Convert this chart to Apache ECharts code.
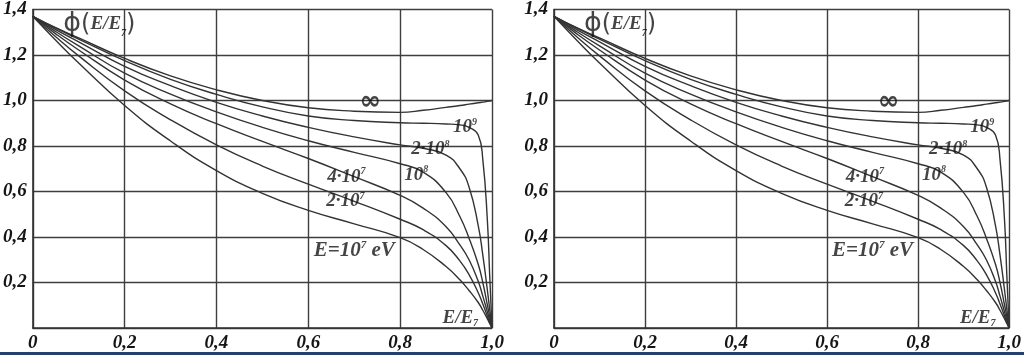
<!DOCTYPE html>
<html>
<head>
<meta charset="utf-8">
<script src="https://cdn.jsdelivr.net/npm/echarts@6/dist/echarts.min.js"></script>
<style>
html,body{margin:0;padding:0;background:#fff;}
#chart{width:1024px;height:355px;}
</style>
</head>
<body>
<div id="chart"></div>
<script>
// x = E/E7 (fraction), shared by all curves
var xs = [0, 0.05, 0.1, 0.2, 0.3, 0.4, 0.5, 0.6, 0.7, 0.8, 0.85, 0.9, 0.93, 0.95, 0.97, 0.98, 0.99, 0.995, 1.0];
// phi(E/E7) for each primary energy
var e1e7 = [1.37, 1.265, 1.165, 0.978, 0.822, 0.692, 0.592, 0.517, 0.458, 0.397, 0.345, 0.27, 0.212, 0.165, 0.112, 0.078, 0.04, 0.02, 0];
var e2e7 = [1.37, 1.28, 1.196, 1.042, 0.915, 0.805, 0.712, 0.632, 0.557, 0.478, 0.432, 0.362, 0.295, 0.235, 0.155, 0.105, 0.052, 0.026, 0];
var e4e7 = [1.37, 1.293, 1.222, 1.09, 0.985, 0.898, 0.82, 0.745, 0.665, 0.583, 0.527, 0.445, 0.365, 0.30, 0.205, 0.14, 0.07, 0.035, 0];
var e1e8 = [1.37, 1.303, 1.24, 1.12, 1.028, 0.95, 0.882, 0.823, 0.772, 0.722, 0.685, 0.595, 0.49, 0.395, 0.28, 0.20, 0.10, 0.05, 0];
var e2e8 = [1.37, 1.312, 1.258, 1.15, 1.065, 0.992, 0.932, 0.882, 0.84, 0.805, 0.79, 0.76, 0.70, 0.62, 0.45, 0.32, 0.165, 0.082, 0];
var e1e9 = [1.37, 1.318, 1.27, 1.175, 1.093, 1.027, 0.972, 0.932, 0.912, 0.902, 0.90, 0.897, 0.893, 0.882, 0.848, 0.74, 0.47, 0.23, 0];
var eInf = [1.37, 1.32, 1.275, 1.185, 1.108, 1.047, 1.0, 0.968, 0.953, 0.948, 0.957, 0.97, 0.978, 0.984, 0.99, 0.993, 0.996, 0.998, 1.0];
var curves = [e1e7, e2e7, e4e7, e1e8, e2e8, e1e9, eInf];

// axis ticks
var xTicks = [0, 0.2, 0.4, 0.6, 0.8, 1.0];
var yTicks = [0.2, 0.4, 0.6, 0.8, 1.0, 1.2, 1.4];

// annotations: [x, y, rich text]
var notes = [
  [0.145, 1.335, '{phi|ϕ}{par|(}{it|E/E}{sub|7}{par|)}'],
  [0.735, 0.991, '{inf|∞}'],
  [0.941, 0.883, '{it|10}{sup|9}'],
  [0.866, 0.787, '{it|2·10}{sup|8}'],
  [0.835, 0.674, '{it|10}{sup|8}'],
  [0.683, 0.665, '{it|4·10}{sup|7}'],
  [0.681, 0.557, '{it|2·10}{sup|7}'],
  [0.70, 0.339, '{big|E=10}{bsup|7}{big| eV}'],
  [0.931, 0.043, '{it|E/E}{sub|7}']
];

var serif = '"Liberation Serif", "DejaVu Serif", serif';
var ink = '#151515';
var rich = {
  it: {fontFamily: serif, fontStyle: 'italic', fontWeight: 'bold', fontSize: 19, color: ink, lineHeight: 20},
  sup: {fontFamily: serif, fontStyle: 'italic', fontWeight: 'bold', fontSize: 10, color: ink, verticalAlign: 'top', lineHeight: 20},
  sub: {fontFamily: serif, fontStyle: 'italic', fontWeight: 'bold', fontSize: 10, color: ink, verticalAlign: 'bottom', lineHeight: 20},
  big: {fontFamily: serif, fontStyle: 'italic', fontWeight: 'bold', fontSize: 21, color: ink, lineHeight: 22},
  bsup: {fontFamily: serif, fontStyle: 'italic', fontWeight: 'bold', fontSize: 11, color: ink, verticalAlign: 'top', lineHeight: 22},
  phi: {fontFamily: '"DejaVu Sans", sans-serif', fontSize: 27, color: ink, lineHeight: 28},
  par: {fontFamily: '"DejaVu Sans", sans-serif', fontSize: 24, color: ink, lineHeight: 28},
  inf: {fontFamily: '"DejaVu Sans", sans-serif', fontWeight: 'bold', fontSize: 26, color: ink, lineHeight: 22}
};

function fmt(v) { return v.toFixed(1).replace('.', ','); }

var grids = [
  {left: 31, right: 532, top: 6, bottom: 27},
  {left: 554, right: 8, top: 6, bottom: 27}
];

var gridLine = {show: true, lineStyle: {color: '#3e3e3e', width: 1.4}};
var labelFont = {fontFamily: serif, fontStyle: 'italic', fontWeight: 'bold', fontSize: 19, color: ink};

var xAxes = [], yAxes = [], series = [];
grids.forEach(function (g, gi) {
  xAxes.push({
    type: 'value', gridIndex: gi, min: 0, max: 1, interval: 0.2,
    axisLine: {show: true, lineStyle: {color: '#333', width: 1.6}},
    axisTick: {show: false},
    splitLine: gridLine,
    axisLabel: Object.assign({margin: 6, formatter: function (v) { return v === 0 ? '0' : fmt(v); }}, labelFont)
  });
  yAxes.push({
    type: 'value', gridIndex: gi, min: 0, max: 1.4, interval: 0.2,
    axisLine: {show: true, lineStyle: {color: '#333', width: 1.6}},
    axisTick: {show: false},
    splitLine: gridLine,
    axisLabel: Object.assign({margin: 6, formatter: function (v) { return v === 0 ? '' : fmt(v); }}, labelFont)
  });
  curves.forEach(function (c) {
    series.push({
      type: 'line', xAxisIndex: gi, yAxisIndex: gi,
      data: xs.map(function (x, i) { return [x, c[i]]; }),
      smooth: 0.5, showSymbol: false, symbol: 'none',
      lineStyle: {color: '#333', width: 1.4}, silent: true, z: 3
    });
  });
  series.push({
    type: 'scatter', xAxisIndex: gi, yAxisIndex: gi, symbolSize: 0, silent: true, z: 5,
    data: notes.map(function (n) {
      return {value: [n[0], n[1]], label: {show: true, position: 'inside', formatter: n[2], rich: rich}};
    })
  });
});

var chart = echarts.init(document.getElementById('chart'), null, {renderer: 'canvas'});
chart.setOption({
  animation: false,
  backgroundColor: '#ffffff',
  grid: grids,
  xAxis: xAxes,
  yAxis: yAxes,
  series: series,
  graphic: [{type: 'rect', left: 0, bottom: 0, shape: {width: 1024, height: 3}, style: {fill: '#24416f'}, z: 10}]
});
</script>
</body>
</html>
